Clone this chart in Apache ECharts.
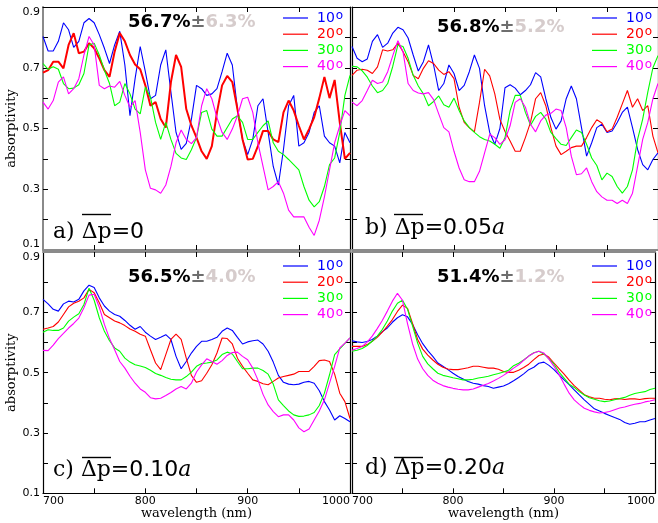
<!DOCTYPE html>
<html><head><meta charset="utf-8">
<script src="https://cdn.jsdelivr.net/npm/echarts@6/dist/echarts.min.js"></script>
<style>html,body{margin:0;padding:0;background:#fff}#c{width:658px;height:523px}</style>
</head><body><div id="c"></div>
<script>
const wavelengths = [700,705,710,715,720,725,730,735,740,745,750,755,760,765,770,775,780,785,790,795,800,805,810,815,820,825,830,835,840,845,850,855,860,865,870,875,880,885,890,895,900,905,910,915,920,925,930,935,940,945,950,955,960,965,970,975,980,985,990,995,1000];
const angleNames = ['10','20','30','40'];
const colors = ['#0000ff','#ff0000','#00ff00','#ff00ff'];
const xTickLabels = [700,800,900,1000];
const yTickLabels = [0.1,0.3,0.5,0.7,0.9];
const means = ['56.7%','56.8%','56.5%','51.4%'];
const spreads = ['6.3%','5.2%','4.0%','1.2%'];
const panelLetters = ['a)','b)','c)','d)'];
const dpValues = ['0','0.05','0.10','0.20'];

// panel a) dp=0
const aBlue = [0.803,0.755,0.755,0.787,0.848,0.825,0.767,0.787,0.848,0.862,
 0.848,0.809,0.764,0.714,0.775,0.82,0.709,0.542,0.664,0.77,
 0.687,0.598,0.609,0.709,0.759,0.62,0.487,0.431,0.451,0.53,
 0.642,0.631,0.609,0.614,0.631,0.687,0.748,0.709,0.564,0.464,
 0.414,0.464,0.575,0.598,0.487,0.375,0.314,0.431,0.575,0.609,
 0.442,0.453,0.487,0.553,0.575,0.475,0.453,0.442,0.387,0.487,
 0.453];
const aRed = [0.684,0.692,0.72,0.72,0.698,0.775,0.814,0.748,0.753,0.781,
 0.764,0.731,0.692,0.67,0.753,0.814,0.787,0.742,0.711,0.695,
 0.642,0.575,0.587,0.531,0.503,0.653,0.742,0.703,0.564,0.51,
 0.47,0.425,0.40,0.442,0.553,0.642,0.673,0.653,0.564,0.464,
 0.398,0.40,0.442,0.492,0.492,0.464,0.455,0.553,0.592,0.559,
 0.509,0.464,0.498,0.537,0.60,0.67,0.60,0.66,0.52,0.40,
 0.42];
const aGreen = [0.714,0.695,0.703,0.695,0.648,0.631,0.633,0.644,0.681,0.775,
 0.781,0.742,0.692,0.648,0.575,0.587,0.648,0.614,0.564,0.548,
 0.636,0.603,0.52,0.464,0.52,0.464,0.418,0.403,0.398,0.43,
 0.47,0.553,0.559,0.498,0.475,0.475,0.503,0.531,0.542,0.52,
 0.464,0.464,0.487,0.509,0.525,0.453,0.425,0.414,0.398,0.381,
 0.364,0.309,0.264,0.242,0.259,0.309,0.381,0.403,0.487,0.609,
 0.675];
const aMagenta = [0.587,0.564,0.592,0.653,0.67,0.614,0.631,0.664,0.742,0.803,
 0.775,0.642,0.631,0.64,0.636,0.655,0.609,0.57,0.592,0.487,
 0.364,0.303,0.298,0.287,0.314,0.375,0.453,0.495,0.464,0.45,
 0.47,0.575,0.631,0.598,0.536,0.487,0.464,0.498,0.542,0.598,
 0.603,0.553,0.453,0.375,0.298,0.309,0.325,0.287,0.231,0.209,
 0.209,0.209,0.175,0.148,0.198,0.275,0.364,0.453,0.509,0.559,
 0.542];

// panel b) dp=0.05a
const bBlue = [0.77,0.731,0.72,0.729,0.787,0.809,0.767,0.781,0.814,0.833,
 0.825,0.798,0.742,0.689,0.72,0.775,0.709,0.625,0.648,0.709,
 0.681,0.625,0.642,0.687,0.742,0.698,0.575,0.487,0.448,0.50,
 0.634,0.644,0.633,0.611,0.625,0.644,0.684,0.67,0.598,0.536,
 0.498,0.525,0.598,0.64,0.598,0.503,0.409,0.453,0.503,0.514,
 0.487,0.492,0.52,0.553,0.57,0.503,0.431,0.381,0.364,0.398,
 0.42];
const bRed = [0.675,0.692,0.695,0.692,0.681,0.703,0.759,0.755,0.759,0.781,
 0.753,0.72,0.675,0.664,0.698,0.723,0.714,0.692,0.678,0.687,
 0.664,0.57,0.52,0.503,0.489,0.586,0.695,0.673,0.614,0.53,
 0.49,0.459,0.425,0.425,0.47,0.52,0.598,0.618,0.575,0.503,
 0.442,0.414,0.425,0.437,0.442,0.442,0.47,0.503,0.529,0.518,
 0.489,0.498,0.537,0.581,0.625,0.57,0.598,0.559,0.575,0.475,
 0.42];
const bGreen = [0.705,0.703,0.69,0.669,0.64,0.618,0.625,0.648,0.705,0.775,
 0.77,0.731,0.675,0.64,0.614,0.575,0.589,0.607,0.578,0.57,
 0.60,0.559,0.525,0.503,0.487,0.473,0.464,0.459,0.448,0.435,
 0.47,0.559,0.609,0.609,0.553,0.511,0.54,0.553,0.531,0.487,
 0.467,0.448,0.444,0.47,0.495,0.487,0.448,0.403,0.378,0.331,
 0.353,0.342,0.309,0.287,0.309,0.364,0.464,0.531,0.62,0.70,
 0.74];
const bMagenta = [0.587,0.575,0.592,0.625,0.659,0.648,0.653,0.687,0.74,0.789,
 0.753,0.648,0.625,0.617,0.614,0.618,0.595,0.548,0.503,0.489,
 0.425,0.37,0.331,0.325,0.325,0.359,0.42,0.481,0.47,0.448,
 0.463,0.509,0.586,0.598,0.57,0.514,0.489,0.525,0.544,0.55,
 0.564,0.559,0.503,0.409,0.348,0.351,0.37,0.325,0.292,0.275,
 0.264,0.264,0.253,0.264,0.253,0.287,0.375,0.464,0.52,0.598,
 0.648];

// panel c) dp=0.10a
const cBlue = [0.743,0.728,0.71,0.704,0.728,0.737,0.734,0.743,0.771,0.79,
 0.782,0.748,0.721,0.704,0.693,0.687,0.673,0.657,0.644,0.653,
 0.634,0.621,0.61,0.617,0.626,0.61,0.554,0.513,0.537,0.565,
 0.587,0.604,0.604,0.61,0.617,0.637,0.648,0.64,0.617,0.595,
 0.602,0.606,0.608,0.595,0.571,0.535,0.491,0.468,0.462,0.46,
 0.462,0.468,0.471,0.465,0.44,0.404,0.376,0.343,0.357,0.348,
 0.337];
const cRed = [0.644,0.648,0.653,0.668,0.693,0.718,0.73,0.737,0.748,0.776,
 0.765,0.732,0.693,0.682,0.671,0.665,0.656,0.645,0.637,0.627,
 0.621,0.576,0.532,0.51,0.56,0.61,0.628,0.61,0.548,0.491,
 0.468,0.473,0.498,0.526,0.565,0.615,0.613,0.595,0.548,0.521,
 0.498,0.476,0.471,0.463,0.46,0.471,0.482,0.487,0.491,0.495,
 0.504,0.504,0.504,0.521,0.54,0.542,0.537,0.495,0.432,0.404,
 0.348];
const cGreen = [0.634,0.642,0.64,0.64,0.648,0.671,0.684,0.695,0.726,0.78,
 0.74,0.682,0.637,0.606,0.582,0.571,0.548,0.535,0.526,0.522,
 0.517,0.508,0.497,0.491,0.484,0.478,0.476,0.476,0.487,0.502,
 0.521,0.53,0.532,0.535,0.542,0.56,0.568,0.562,0.537,0.513,
 0.513,0.515,0.515,0.507,0.495,0.462,0.41,0.391,0.373,0.36,
 0.355,0.356,0.36,0.368,0.391,0.432,0.493,0.56,0.579,0.597,
 0.615];
const cMagenta = [0.574,0.573,0.591,0.613,0.63,0.648,0.663,0.681,0.715,0.757,
 0.76,0.717,0.66,0.613,0.576,0.537,0.515,0.488,0.465,0.446,
 0.435,0.417,0.413,0.415,0.424,0.434,0.446,0.454,0.446,0.465,
 0.502,0.526,0.546,0.537,0.528,0.54,0.557,0.567,0.568,0.554,
 0.543,0.515,0.476,0.428,0.393,0.371,0.354,0.36,0.36,0.343,
 0.317,0.304,0.313,0.343,0.373,0.41,0.465,0.521,0.582,0.598,
 0.615];

// panel d) dp=0.20a
const dBlue = [0.606,0.602,0.60,0.603,0.61,0.621,0.636,0.648,0.667,0.682,
 0.692,0.685,0.66,0.626,0.596,0.573,0.554,0.532,0.521,0.51,
 0.498,0.487,0.479,0.471,0.465,0.462,0.457,0.454,0.448,0.452,
 0.456,0.463,0.473,0.484,0.496,0.51,0.518,0.531,0.535,0.524,
 0.51,0.493,0.476,0.46,0.443,0.426,0.41,0.395,0.38,0.373,
 0.365,0.358,0.351,0.345,0.335,0.329,0.332,0.337,0.337,0.343,
 0.348];
const dRed = [0.587,0.587,0.587,0.593,0.604,0.617,0.634,0.654,0.676,0.703,
 0.724,0.713,0.662,0.61,0.578,0.558,0.542,0.528,0.518,0.512,
 0.51,0.51,0.513,0.516,0.521,0.521,0.518,0.515,0.515,0.511,
 0.504,0.501,0.501,0.508,0.517,0.528,0.543,0.557,0.562,0.551,
 0.532,0.513,0.495,0.475,0.457,0.442,0.427,0.42,0.415,0.415,
 0.412,0.41,0.413,0.414,0.411,0.413,0.413,0.411,0.414,0.415,
 0.415];
const dGreen = [0.571,0.574,0.58,0.59,0.604,0.621,0.643,0.671,0.704,0.73,
 0.74,0.71,0.654,0.598,0.554,0.529,0.513,0.498,0.491,0.487,
 0.483,0.48,0.476,0.476,0.478,0.482,0.485,0.488,0.493,0.497,
 0.502,0.508,0.523,0.531,0.542,0.555,0.566,0.571,0.562,0.546,
 0.528,0.502,0.482,0.462,0.451,0.437,0.426,0.417,0.412,0.407,
 0.404,0.406,0.41,0.414,0.418,0.425,0.431,0.434,0.437,0.444,
 0.448];
const dMagenta = [0.574,0.58,0.587,0.601,0.621,0.646,0.673,0.704,0.737,0.763,
 0.74,0.662,0.595,0.545,0.513,0.491,0.475,0.465,0.457,0.452,
 0.448,0.445,0.443,0.443,0.446,0.452,0.458,0.464,0.472,0.481,
 0.491,0.502,0.515,0.526,0.541,0.555,0.565,0.571,0.565,0.545,
 0.521,0.493,0.462,0.432,0.41,0.395,0.382,0.375,0.37,0.366,
 0.368,0.371,0.377,0.383,0.386,0.391,0.395,0.398,0.403,0.406,
 0.41];

const panelSeries = [
  [aBlue, aRed, aGreen, aMagenta],
  [bBlue, bRed, bGreen, bMagenta],
  [cBlue, cRed, cGreen, cMagenta],
  [dBlue, dRed, dGreen, dMagenta]
];

// ---- layout (pixels) ----
const grids = [
  {left: 43, top: 7, width: 307, height: 243},
  {left: 352, top: 7, width: 307, height: 243},
  {left: 43, top: 252, width: 307, height: 241.3},
  {left: 352, top: 252, width: 307, height: 241.3}
];
const GREY = '#8a8a8a';
const tickFont = {fontFamily: 'DejaVu Sans', fontSize: 11, color: '#000'};

const xAxes = [], yAxes = [], series = [], legends = [], graphics = [];

grids.forEach((g, i) => {
  const isBottom = i >= 2, isLeft = i % 2 === 0;
  const bottomColor = isBottom ? '#000' : GREY;
  const topColor = isBottom ? GREY : '#000';
  const leftColor = (i === 0) ? GREY : '#000';
  xAxes.push({
    gridIndex: i, type: 'value', min: 700, max: 1000, position: 'bottom',
    axisLine: {show: true, onZero: false, lineStyle: {color: bottomColor, width: isBottom ? 1.2 : 2}},
    axisTick: {show: true, inside: true, length: 5, customValues: [750,800,850,900,950], lineStyle: {color: '#000'}},
    axisLabel: {show: isBottom, customValues: xTickLabels, formatter: v => String(Math.round(v)),
      alignMinLabel: 'left', alignMaxLabel: 'right', margin: 2, ...tickFont},
    splitLine: {show: false},
    name: isBottom ? 'wavelength (nm)' : '', nameLocation: 'middle', nameGap: 11,
    nameTextStyle: {fontFamily: 'DejaVu Serif', fontSize: 13, color: '#000'}
  });
  xAxes.push({
    gridIndex: i, type: 'value', min: 700, max: 1000, position: 'top',
    axisLine: {show: true, onZero: false, lineStyle: {color: topColor, width: isBottom ? 2 : 1.2}},
    axisTick: {show: true, inside: true, length: 5, customValues: [750,800,850,900,950], lineStyle: {color: '#000'}},
    axisLabel: {show: false}, splitLine: {show: false}
  });
  yAxes.push({
    gridIndex: i, type: 'value', min: 0.1, max: 0.9, position: 'left',
    axisLine: {show: true, onZero: false, lineStyle: {color: leftColor, width: i === 0 ? 2 : 1.2}},
    axisTick: {show: true, inside: true, length: 5, customValues: [0.2,0.3,0.4,0.5,0.6,0.7,0.8], lineStyle: {color: '#000'}},
    axisLabel: {show: isLeft, customValues: yTickLabels, formatter: v => v.toFixed(1), margin: 3,
      verticalAlignMaxLabel: 'top', verticalAlignMinLabel: isBottom ? 'middle' : 'bottom', ...tickFont},
    splitLine: {show: false},
    name: isLeft ? 'absorptivity' : '', nameLocation: 'middle', nameGap: 23,
    nameTextStyle: {fontFamily: 'DejaVu Serif', fontSize: 13, color: '#000'}
  });
  yAxes.push({
    gridIndex: i, type: 'value', min: 0.1, max: 0.9, position: 'right',
    axisLine: {show: true, onZero: false, lineStyle: {color: '#000', width: 1.2}},
    axisTick: {show: true, inside: true, length: 5, customValues: [0.2,0.3,0.4,0.5,0.6,0.7,0.8], lineStyle: {color: '#000'}},
    axisLabel: {show: false}, splitLine: {show: false}
  });
  panelSeries[i].forEach((vals, j) => {
    series.push({
      type: 'line', name: angleNames[j], xAxisIndex: 2 * i, yAxisIndex: 2 * i,
      data: wavelengths.map((w, k) => [w, vals[k]]),
      symbol: 'none', showSymbol: false, silent: true,
      lineStyle: {color: colors[j], width: (i === 0 && j === 1) ? 2 : 1.1},
      itemStyle: {color: colors[j]}
    });
  });
  const rich = {};
  colors.forEach((c, j) => {
    rich['n' + j] = {color: c, fontFamily: 'DejaVu Sans', fontSize: 14, lineHeight: 16, padding: [0, 0, 0, 4]};
    rich['s' + j] = {color: c, fontFamily: 'DejaVu Sans', fontSize: 12, lineHeight: 4, verticalAlign: 'top', padding: [0, 0, 0, 1]};
  });
  legends.push({
    orient: 'vertical', left: isLeft ? 283 : 592, top: isBottom ? 258 : 10,
    icon: 'rect', itemWidth: 25, itemHeight: 1.2, itemGap: 1.2, padding: 0, selectedMode: false,
    data: angleNames.map(n => ({name: n})),
    formatter: n => { const j = angleNames.indexOf(n); return '{n' + j + '|' + n + '}{s' + j + '|o}'; },
    textStyle: {rich: rich}
  });
  // stat title
  const tx = isLeft ? 128 : 437;
  const ty = [22.5, 27, 277, 277][i];
  graphics.push({
    type: 'text', x: tx, y: ty, silent: true,
    style: {
      text: '{b|' + means[i] + '}{p|±}{g|' + spreads[i] + '}', verticalAlign: 'middle', align: 'left',
      rich: {
        b: {fontFamily: 'DejaVu Sans', fontWeight: 'bold', fontSize: 18, fill: '#000', color: '#000'},
        p: {fontFamily: 'DejaVu Sans', fontWeight: 'bold', fontSize: 18, fill: '#6e6e6e', color: '#6e6e6e'},
        g: {fontFamily: 'DejaVu Sans', fontWeight: 'bold', fontSize: 18, fill: '#d6cccc', color: '#d6cccc'}
      }
    }
  });
  // panel label
  const lx = isLeft ? 53 : 365;
  const ly = [232, 228, 470, 468][i];
  const unit = dpValues[i] === '0' ? '' : '{i|a}';
  graphics.push({
    type: 'text', x: lx, y: ly, silent: true,
    style: {
      text: '{s|' + panelLetters[i] + ' Δp}{n|=' + dpValues[i] + '}' + unit, verticalAlign: 'middle', align: 'left',
      rich: {
        s: {fontFamily: 'DejaVu Serif', fontSize: 22, fill: '#000', color: '#000'},
        n: {fontFamily: 'DejaVu Sans', fontSize: 22, fill: '#000', color: '#000'},
        i: {fontFamily: 'DejaVu Serif', fontStyle: 'italic', fontSize: 22, fill: '#000', color: '#000'}
      }
    }
  });
  const oy = isBottom ? 457.5 : 214.5;
  graphics.push({
    type: 'line', silent: true,
    shape: {x1: lx + 29, y1: oy, x2: lx + 58, y2: oy},
    style: {stroke: '#000', lineWidth: 1.4}
  });
});

const chart = echarts.init(document.getElementById('c'), null, {renderer: 'canvas'});
chart.setOption({
  animation: false,
  backgroundColor: '#fff',
  grid: grids,
  xAxis: xAxes,
  yAxis: yAxes,
  legend: legends,
  series: series,
  graphic: graphics
});
</script>
</body></html>
